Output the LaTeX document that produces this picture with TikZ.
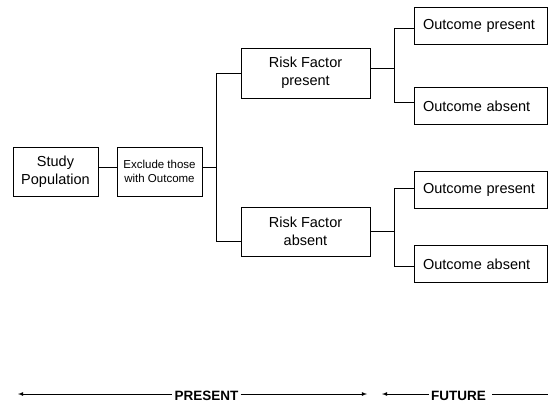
\documentclass[tikz,border=0pt]{standalone}
\usepackage{fontspec}
\setmainfont{Liberation Sans}
\usepackage{tikz}
\usetikzlibrary{positioning}
\tikzset{
  stagebox/.style = {draw, line width=0.8pt, inner sep=0pt, align=center, font=\fontsize{14.5}{17.5}\selectfont},
  outbox/.style = {stagebox, minimum width=133pt, minimum height=37pt, text width=115pt, align=left},
  link/.style = {line width=0.8pt},
  timeline/.style = {line width=0.8pt},
  period/.style = {font=\fontsize{13.5}{16}\selectfont\bfseries, inner sep=2pt}
}

\begin{document}
\begin{tikzpicture}[x=1pt,y=-1pt]
  \useasboundingbox (0,0) rectangle (548,404);
  % cohort start
  \node[stagebox, minimum width=85pt, minimum height=49pt] (study) at (55.5,171.5) {Study\\Population};
  \node[stagebox, minimum width=85pt, minimum height=49pt, font=\fontsize{11.5}{14}\selectfont] (excl) at (159.5,171.5) {Exclude those\\with Outcome};
  \node[stagebox, minimum width=129pt, minimum height=50pt] (rfp) at (305.5,73) {Risk Factor\\present};
  \node[stagebox, minimum width=129pt, minimum height=49pt] (rfa) at (305.5,231.5) {Risk Factor\\absent};
  % outcomes
  \node[outbox] (op1) at (480.5,25.5) {Outcome present};
  \node[outbox] (oa1) at (480.5,106) {Outcome absent};
  \node[outbox] (op2) at (480.5,190) {Outcome present};
  \node[outbox] (oa2) at (480.5,264) {Outcome absent};
  \draw[link] ([yshift=4pt]study.east) -- ([yshift=4pt]excl.west);
  \draw[link] ([yshift=4pt]excl.east) -- ++(14,0) coordinate (split);
  \draw[link] (rfp.west) -| (split) |- ([yshift=-9.5pt]rfa.west);
  \draw[link] ([yshift=5pt]rfp.east) -- ++(24,0) coordinate (fork1);
  \draw[link] ([yshift=-2.5pt]op1.west) -| (fork1) |- ([yshift=4pt]oa1.west);
  \draw[link] (rfa.east) -- ++(24,0) coordinate (fork2);
  \draw[link] ([yshift=2pt]op2.west) -| (fork2) |- ([yshift=-2pt]oa2.west);
  % time axis
  \node[period] (present) at (206.5,396) {PRESENT};
  \node[period] (future) at (458.5,395.5) {FUTURE};
  \coordinate (pstart) at (18,394);
  \coordinate (pend) at (367,394);
  \coordinate (fstart) at (382,394);
  \coordinate (fend) at (548,394);
  \draw[timeline,latex-] (pstart) -- (present.west |- pstart);
  \draw[timeline,-latex] (present.east |- pend) -- (pend);
  \draw[timeline,latex-] (fstart) -- (future.west |- fstart);
  \draw[timeline] ([xshift=4pt]future.east |- fend) -- (fend);
\end{tikzpicture}
\end{document}
